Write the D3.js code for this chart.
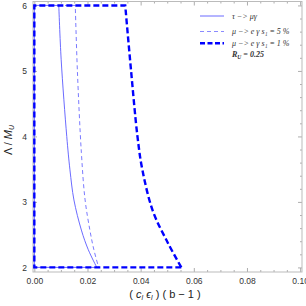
<!DOCTYPE html>
<html>
<head>
<meta charset="utf-8">
<script src="https://cdn.jsdelivr.net/npm/d3@7"></script>
<style>
  body { margin: 0; background: #fff; }
  svg { display: block; }
</style>
</head>
<body>
<svg id="chart" width="306" height="306"></svg>
<script>
// tau -> mu gamma (solid thin)
const tauLambda = [6.0, 5.17, 4.0, 3.49, 3.03, 2.57, 2.27, 2.0];
const tauX = [0.0092, 0.0101, 0.0122, 0.0134, 0.0149, 0.0177, 0.0203, 0.0235];
// mu -> e gamma, s1 = 5 % (thin dashed)
const mu5Lambda = [6.0, 5.0, 3.75, 3.03, 2.57, 2.27, 2.0];
const mu5X = [0.0154, 0.0162, 0.0177, 0.0191, 0.0209, 0.0224, 0.0242];
// mu -> e gamma, s1 = 1 % (thick dashed)
const mu1Lambda = [6.0, 5.0, 4.0, 3.5, 2.86, 2.37, 2.0];
const mu1X = [0.0342, 0.0364, 0.0388, 0.0406, 0.0446, 0.0503, 0.0553];

const xTicks = [0, 0.02, 0.04, 0.06, 0.08, 0.10];
const yTicks = [2, 3, 4, 5, 6];
const legendLabels = [`τ −> μγ`, `μ −> e γ  s₁ = 5 %`, `μ −> e γ  s₁ = 1 %`];

const svg = d3.select(`#chart`);

const x = d3.scaleLinear().domain([-0.0005, 0.1007]).range([33, 302]);
const y = d3.scaleLinear().domain([1.93, 6.06]).range([272, 1.5]);

const tickColor = `#999`;
const labelFont = `"Liberation Sans", Arial, sans-serif`;

// minor ticks
const xMinor = d3.range(0, 0.1001, 0.005).filter(v => Math.abs(v / 0.02 - Math.round(v / 0.02)) > 1e-6);
const yMinor = d3.range(2, 6.001, 0.2).filter(v => Math.abs(v - Math.round(v)) > 1e-6);

const styleAxis = g => {
    g.select(`.domain`).remove();
    g.selectAll(`line`).attr(`stroke`, tickColor).attr(`stroke-width`, 0.8);
    g.selectAll(`text`).attr(`fill`, `#333`).attr(`font-size`, `8.5px`).attr(`font-family`, labelFont);
};

// bottom
svg.append(`g`).attr(`transform`, `translate(0, 272)`)
    .call(d3.axisBottom(x).tickValues(xTicks).tickFormat(d3.format(`.2f`)).tickSize(-4).tickPadding(6))
    .call(styleAxis);
svg.append(`g`).attr(`transform`, `translate(0, 272)`)
    .call(d3.axisBottom(x).tickValues(xMinor).tickFormat(``).tickSize(-2))
    .call(styleAxis);
// top
svg.append(`g`).attr(`transform`, `translate(0, 1.5)`)
    .call(d3.axisTop(x).tickValues(xTicks).tickFormat(``).tickSize(-4))
    .call(styleAxis);
svg.append(`g`).attr(`transform`, `translate(0, 1.5)`)
    .call(d3.axisTop(x).tickValues(xMinor).tickFormat(``).tickSize(-2))
    .call(styleAxis);
// left
svg.append(`g`).attr(`transform`, `translate(33, 0)`)
    .call(d3.axisLeft(y).tickValues(yTicks).tickFormat(d3.format(`d`)).tickSize(-4).tickPadding(6))
    .call(styleAxis);
svg.append(`g`).attr(`transform`, `translate(33, 0)`)
    .call(d3.axisLeft(y).tickValues(yMinor).tickFormat(``).tickSize(-2))
    .call(styleAxis);
// right
svg.append(`g`).attr(`transform`, `translate(302, 0)`)
    .call(d3.axisRight(y).tickValues(yTicks).tickFormat(``).tickSize(-4))
    .call(styleAxis);
svg.append(`g`).attr(`transform`, `translate(302, 0)`)
    .call(d3.axisRight(y).tickValues(yMinor).tickFormat(``).tickSize(-2))
    .call(styleAxis);

// frame
svg.append(`rect`)
    .attr(`x`, 33).attr(`y`, 1.5)
    .attr(`width`, 302 - 33).attr(`height`, 272 - 1.5)
    .attr(`fill`, `none`).attr(`stroke`, `#bbb`).attr(`stroke-width`, 1);

// region outline: straight edges along x = 0, Λ = 6, Λ = 2, smooth boundary curve
const edgeLine = d3.line().x(d => x(d[0])).y(d => y(d[1]));
const curveLine = d3.line().x(d => x(d[0])).y(d => y(d[1])).curve(d3.curveCatmullRom.alpha(0.5));

const regionPath = (xs, ls) => {
    const last = xs.length - 1;
    const edges = edgeLine([[xs[last], 2], [0, 2], [0, 6], [xs[0], 6]]);
    const bound = curveLine(xs.map((v, i) => [v, ls[i]]));
    return edges + bound.replace(/^M/, `L`);
};

svg.append(`path`)
    .attr(`d`, regionPath(tauX, tauLambda))
    .attr(`fill`, `none`).attr(`stroke`, `#5a5aff`).attr(`stroke-width`, 0.9);

svg.append(`path`)
    .attr(`d`, regionPath(mu5X, mu5Lambda))
    .attr(`fill`, `none`).attr(`stroke`, `#7a7aff`).attr(`stroke-width`, 1)
    .attr(`stroke-dasharray`, `4,3`);

svg.append(`path`)
    .attr(`d`, regionPath(mu1X, mu1Lambda))
    .attr(`fill`, `none`).attr(`stroke`, `#0000ff`).attr(`stroke-width`, 2.4)
    .attr(`stroke-dasharray`, `6,3`);

// legend
const legend = svg.append(`g`).attr(`font-family`, `"Liberation Serif", "Times New Roman", serif`)
    .attr(`font-size`, `8px`).attr(`font-style`, `italic`).attr(`fill`, `#333`);
const legendStyles = [
    {stroke: `#5a5aff`, width: 0.9, dash: null},
    {stroke: `#8a8aff`, width: 1, dash: `4,3`},
    {stroke: `#0000ff`, width: 2.4, dash: `5,2.5`}
];
const legendY = [16, 31.5, 43.3];
legendLabels.forEach((lab, i) => {
    legend.append(`line`)
        .attr(`x1`, 200).attr(`x2`, 224)
        .attr(`y1`, legendY[i]).attr(`y2`, legendY[i])
        .attr(`stroke`, legendStyles[i].stroke)
        .attr(`stroke-width`, legendStyles[i].width)
        .attr(`stroke-dasharray`, legendStyles[i].dash);
    legend.append(`text`)
        .attr(`x`, 232).attr(`y`, legendY[i] + 2.8)
        .text(lab);
});
legend.append(`text`)
    .attr(`x`, 232).attr(`y`, 57)
    .attr(`font-weight`, `bold`)
    .html(`R<tspan font-size="5.5px" dy="2">U</tspan><tspan dy="-2"> = 0.25</tspan>`);

// axis labels
svg.append(`text`)
    .attr(`x`, 165).attr(`y`, 298)
    .attr(`text-anchor`, `middle`)
    .attr(`font-family`, labelFont).attr(`font-size`, `11px`).attr(`fill`, `#222`)
    .html(`( <tspan font-style="italic">c</tspan><tspan font-size="7px" dy="2" font-style="italic">l</tspan><tspan dy="-2"> </tspan><tspan font-style="italic">ϵ</tspan><tspan font-size="7px" dy="2" font-style="italic">l</tspan><tspan dy="-2"> ) ( b − 1 )</tspan>`);

svg.append(`text`)
    .attr(`transform`, `translate(12, 140) rotate(-90)`)
    .attr(`text-anchor`, `middle`)
    .attr(`font-family`, labelFont).attr(`font-size`, `11px`).attr(`fill`, `#222`)
    .html(`Λ / <tspan font-style="italic">M</tspan><tspan font-size="7px" dy="2" font-style="italic">U</tspan>`);
</script>
</body>
</html>
